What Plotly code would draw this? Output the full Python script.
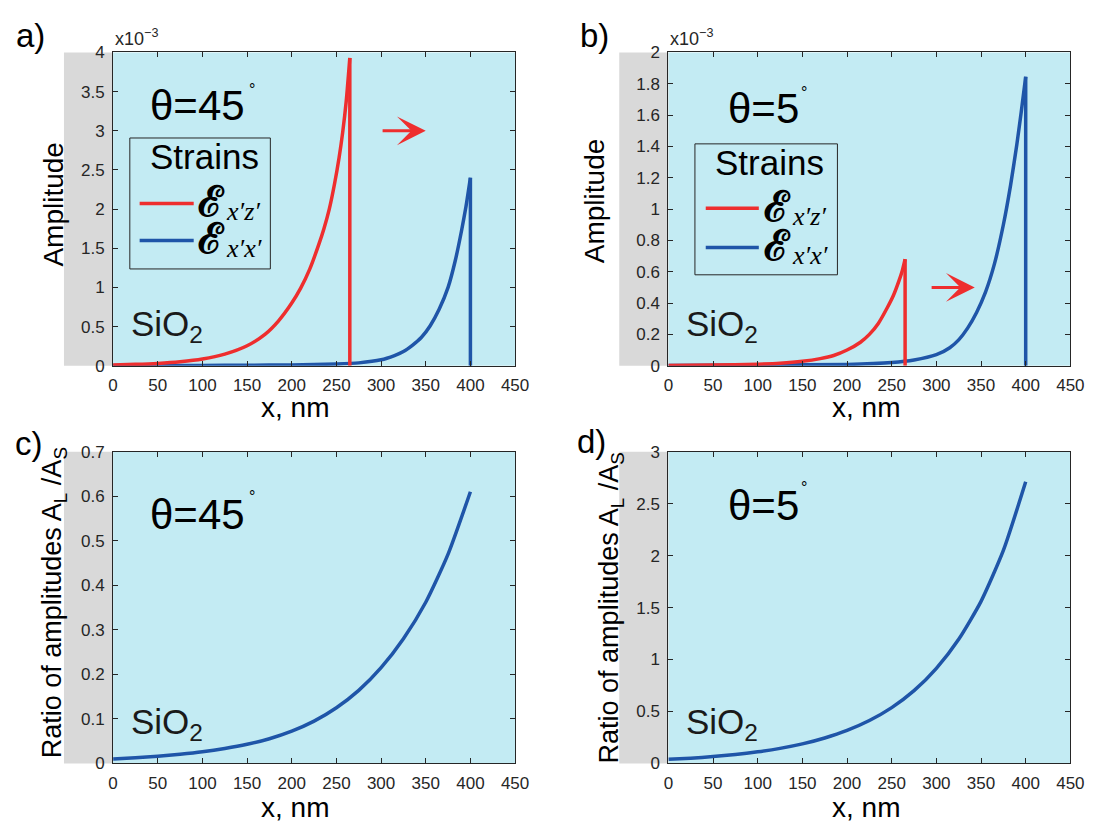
import plotly.graph_objects as go

W, H = 1105, 835

# ---------------- data ----------------
x_ticks = [0, 50, 100, 150, 200, 250, 300, 350, 400, 450]

# panel a (theta = 45 deg), amplitudes in units of 1e-3
a_red_x = [0, 25, 50, 75, 100, 125, 150, 170, 185, 200, 210, 220, 230, 236, 242, 248, 253, 257, 261, 265]
a_red_y = [0.01, 0.017, 0.029, 0.05, 0.085, 0.148, 0.255, 0.40, 0.57, 0.80, 0.99, 1.23, 1.54, 1.75, 2.0, 2.33, 2.66, 2.98, 3.38, 3.93]
a_blue_x = [0, 50, 100, 150, 200, 225, 250, 275, 300, 315, 325, 335, 345, 355, 365, 375, 383, 390, 395, 400]
a_blue_y = [0.002, 0.003, 0.004, 0.006, 0.01, 0.015, 0.022, 0.036, 0.075, 0.13, 0.18, 0.26, 0.36, 0.51, 0.72, 1.0, 1.34, 1.72, 2.03, 2.40]

# panel b (theta = 5 deg), amplitudes in units of 1e-3
b_red_x = [0, 50, 100, 125, 150, 170, 185, 200, 215, 225, 235, 245, 252, 258, 262, 265]
b_red_y = [0.002, 0.004, 0.01, 0.016, 0.028, 0.045, 0.065, 0.10, 0.15, 0.20, 0.27, 0.37, 0.45, 0.54, 0.61, 0.68]
b_blue_x = [0, 100, 200, 250, 275, 300, 315, 325, 335, 345, 355, 365, 375, 383, 390, 395, 400]
b_blue_y = [0.002, 0.004, 0.008, 0.02, 0.036, 0.07, 0.115, 0.165, 0.24, 0.34, 0.47, 0.65, 0.90, 1.15, 1.41, 1.62, 1.845]

# panel c / d: ratio of amplitudes A_L/A_S
ratio_x = [0, 25, 50, 75, 100, 125, 150, 175, 200, 225, 250, 275, 300, 325, 350, 375, 400]
c_ratio = [0.010, 0.0127, 0.0162, 0.0205, 0.026, 0.0335, 0.043, 0.0555, 0.0725, 0.095, 0.125, 0.164, 0.215, 0.280, 0.362, 0.470, 0.610]
d_ratio = [0.040, 0.051, 0.066, 0.086, 0.112, 0.145, 0.188, 0.245, 0.318, 0.413, 0.537, 0.700, 0.915, 1.195, 1.56, 2.05, 2.71]

# arrows (tail x, head x, y) in data units
a_arrow = (300, 350, 3.0)
b_arrow = (293, 343, 0.5)

RED = "#ee2e2e"
BLUE = "#1f55a8"
BG = "#c3ebf3"
GREY = "#d9d9d9"
FONT = "Arial, Liberation Sans, sans-serif"
TXT = "#262626"


def X(px):
    return px / W


def Y(py):
    return 1 - py / H


# panel pixel boxes: (left, right, top, bottom)
boxes = {
    1: (110, 519, 44.5, 365),
    2: (675, 1084, 44.5, 365),
    3: (110, 519, 453, 772),
    4: (675, 1084, 453, 772),
}
yranges = {1: [0, 4], 2: [0, 2], 3: [0, 0.7], 4: [0, 3]}
ydticks = {1: 0.5, 2: 0.2, 3: 0.1, 4: 0.5}

fig = go.Figure()


def add(i, xs, ys, color, shape="spline"):
    sfx = "" if i == 1 else str(i)
    fig.add_trace(go.Scatter(x=xs, y=ys, mode="lines",
                             line=dict(color=color, width=3.5, shape=shape, smoothing=0.6),
                             xaxis="x" + sfx, yaxis="y" + sfx, showlegend=False, hoverinfo="skip"))


def add_drop(i, xs, ys, color):
    # vertical drop at the end of the curve, down to zero
    add(i, [xs[-1], xs[-1]], [ys[-1], 0], color, shape="linear")


add(1, a_blue_x, a_blue_y, BLUE)
add_drop(1, a_blue_x, a_blue_y, BLUE)
add(1, a_red_x, a_red_y, RED)
add_drop(1, a_red_x, a_red_y, RED)
add(2, b_blue_x, b_blue_y, BLUE)
add_drop(2, b_blue_x, b_blue_y, BLUE)
add(2, b_red_x, b_red_y, RED)
add_drop(2, b_red_x, b_red_y, RED)
add(3, ratio_x, c_ratio, BLUE)
add(4, ratio_x, d_ratio, BLUE)

layout = dict(width=W, height=H, margin=dict(l=0, r=0, t=0, b=0),
              paper_bgcolor="white", plot_bgcolor=BG, showlegend=False,
              font=dict(family=FONT, color=TXT))
axis_common = dict(showline=True, linecolor=TXT, linewidth=1, mirror="ticks", ticks="inside",
                   ticklen=5, tickcolor=TXT, tickwidth=1, showgrid=False, zeroline=False,
                   tickfont=dict(family=FONT, size=17, color=TXT), ticklabelstandoff=4)
for i, (l, r, t, b) in boxes.items():
    sfx = "" if i == 1 else str(i)
    layout["xaxis" + sfx] = dict(axis_common, domain=[X(l), X(r)], range=[0, 450],
                                 tickvals=x_ticks, anchor="y" + sfx)
    layout["yaxis" + sfx] = dict(axis_common, domain=[Y(b), Y(t)], range=yranges[i],
                                 dtick=ydticks[i], tick0=0, anchor="x" + sfx)
fig.update_layout(**layout)

shapes = []
anns = []

# grey strips behind y tick labels
for i, (l, r, t, b) in boxes.items():
    shapes.append(dict(type="rect", xref="paper", yref="paper", x0=X(l - 50), x1=X(l), y0=Y(b), y1=Y(t),
                       fillcolor=GREY, line=dict(width=0), layer="below"))


def text(px, py, s, size, xanchor="center", yanchor="middle", angle=0, family=FONT, color="black"):
    anns.append(dict(xref="paper", yref="paper", x=X(px), y=Y(py), text=s, showarrow=False,
                     xanchor=xanchor, yanchor=yanchor, textangle=angle,
                     font=dict(family=family, size=size, color=color)))


# panel letters
text(26, 27, "a)", 33)
text(600, 27, "b)", 33)
text(24, 445, "c)", 33)
text(597, 443, "d)", 33)

# exponent labels
for px in (110, 675):
    text(px, 29, "x10<sup>−3</sup>", 18, xanchor="left", color=TXT)

# theta labels
text(145, 99, "θ=45", 42, xanchor="left")
text(246, 82, "°", 16, xanchor="left")
text(734, 102, "θ=5", 42, xanchor="left")
text(808, 85, "°", 16, xanchor="left")
text(145, 517, "θ=45", 42, xanchor="left")
text(246, 499, "°", 16, xanchor="left")
text(734, 508, "θ=5", 42, xanchor="left")
text(808, 490, "°", 16, xanchor="left")

# SiO2
for px, py in ((126, 324), (691, 324), (126, 732), (691, 732)):
    text(px, py, "SiO<sub>2</sub>", 35, xanchor="left", color="#1a1a1a")

# axis titles
text(49, 200, "Amplitude", 28, angle=-90)
text(600, 196, "Amplitude", 28, angle=-90)
text(50, 608, "Ratio of amplitudes A<sub>L</sub> /A<sub>S</sub>", 27, angle=-90)
text(617, 613, "Ratio of amplitudes A<sub>L</sub> /A<sub>S</sub>", 27, angle=-90)
for px, py in ((295, 408), (876, 408), (295, 817), (876, 817)):
    text(px, py, "x, nm", 28)

# legends (box, title, sample lines, labels)
legends = [
    dict(l=127, r=270, t=132, b=266, title=(203, 151), ly=(199, 237), lx=(137, 192), ex=194),
    dict(l=702, r=847, t=138, b=272, title=(778, 157), ly=(204, 244), lx=(713, 767), ex=770),
]
for lg in legends:
    shapes.append(dict(type="rect", xref="paper", yref="paper", x0=X(lg["l"]), x1=X(lg["r"]),
                       y0=Y(lg["b"]), y1=Y(lg["t"]), line=dict(color=TXT, width=1)))
    text(lg["title"][0], lg["title"][1], "Strains", 35)
    for yy, col, sub in ((lg["ly"][0], RED, "x′z′"), (lg["ly"][1], BLUE, "x′x′")):
        shapes.append(dict(type="line", xref="paper", yref="paper", x0=X(lg["lx"][0]), x1=X(lg["lx"][1]),
                           y0=Y(yy), y1=Y(yy), line=dict(color=col, width=3.5)))
        text(lg["ex"], yy - 2, "<b>ℰ</b>", 42, xanchor="left", family="DejaVu Serif, serif")
        text(lg["ex"] + 29, yy + 8, "<i>" + sub + "</i>", 26, xanchor="left",
             family="Liberation Serif, Times New Roman, serif")

# red arrows (data coordinates)
for sfx, (x0, x1, yv) in (("", a_arrow), ("2", b_arrow)):
    anns.append(dict(xref="x" + sfx, yref="y" + sfx, axref="x" + sfx, ayref="y" + sfx,
                     x=x1, y=yv, ax=x0, ay=yv, text="", showarrow=True,
                     arrowhead=3, arrowsize=1.6, arrowwidth=3, arrowcolor=RED))

fig.update_layout(shapes=shapes, annotations=anns)
fig.write_html("out.html", config={"displayModeBar": False},
               post_script="document.body.style.margin='0px';")
